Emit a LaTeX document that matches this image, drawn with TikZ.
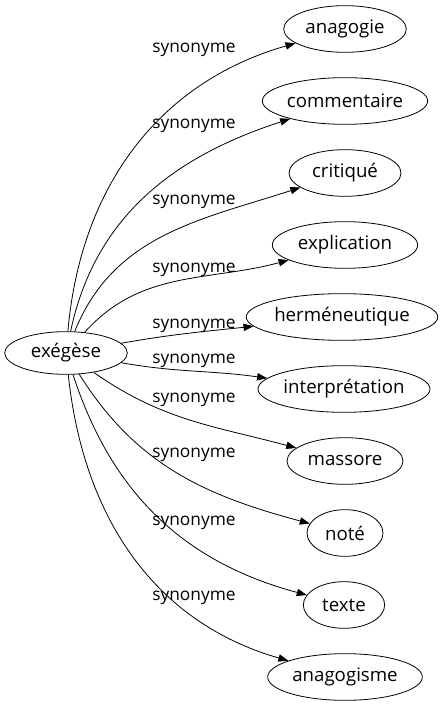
\documentclass[tikz,border=0pt]{standalone}
\usepackage{fontspec}
\setmainfont{Open Sans}
\usetikzlibrary{shapes.geometric,arrows.meta}

\tikzset{
  word/.style={draw,ellipse,line width=0.6pt,minimum height=35pt,inner sep=0pt,font=\fontsize{14pt}{16pt}\selectfont},
  syn/.style={line width=0.6pt,-{Triangle[length=7.5pt,width=5.5pt]}},
  lbl/.style={font=\fontsize{13pt}{15pt}\selectfont}
}

\begin{document}
\begin{tikzpicture}[x=0.75pt,y=0.75pt]
\useasboundingbox (0,0) rectangle (442,707);

% Nodes
\node[word,minimum width=92pt,minimum height=32pt] (exegese) at (66,354) {exégèse};
\node[word,minimum width=92pt] (anagogie) at (345,678) {anagogie};
\node[word,minimum width=124pt] (commentaire) at (345,606) {commentaire};
\node[word,minimum width=84pt] (critique) at (345,534) {critiqué};
\node[word,minimum width=109pt] (explication) at (345,462) {explication};
\node[word,minimum width=136pt] (hermeneutique) at (342,390) {herméneutique};
\node[word,minimum width=129pt] (interpretation) at (344,318) {interprétation};
\node[word,minimum width=87pt] (massore) at (345,246) {massore};
\node[word,minimum width=57pt] (note) at (345,174) {noté};
\node[word,minimum width=61pt] (texte) at (344,102) {texte};
\node[word,minimum width=116pt] (anagogisme) at (345,30) {anagogisme};

% Edges
\draw[syn] (exegese) to[out=85,in=196] (anagogie);
\draw[syn] (exegese) to[out=78,in=198] (commentaire);
\draw[syn] (exegese) to[out=68,in=198] (critique);
\draw[syn] (exegese) to[out=48,in=195] (explication);
\draw[syn] (exegese) to[out=10,in=186] (hermeneutique);
\draw[syn] (exegese) to[out=-10,in=172] (interpretation);
\draw[syn] (exegese) to[out=-35,in=165] (massore);
\draw[syn] (exegese) to[out=-58,in=165] (note);
\draw[syn] (exegese) to[out=-72,in=165] (texte);
\draw[syn] (exegese) to[out=-84,in=164] (anagogisme);

% Text Node
\node[lbl] (l1) at (194,657) {synonyme};
\node[lbl] (l2) at (194,581) {synonyme};
\node[lbl] (l3) at (194,505) {synonyme};
\node[lbl] (l4) at (194,437) {synonyme};
\node[lbl] (l5) at (194,381) {synonyme};
\node[lbl] (l6) at (194,346) {synonyme};
\node[lbl] (l7) at (194,307) {synonyme};
\node[lbl] (l8) at (194,252) {synonyme};
\node[lbl] (l9) at (194,184) {synonyme};
\node[lbl] (l10) at (194,109) {synonyme};

\end{tikzpicture}
\end{document}
